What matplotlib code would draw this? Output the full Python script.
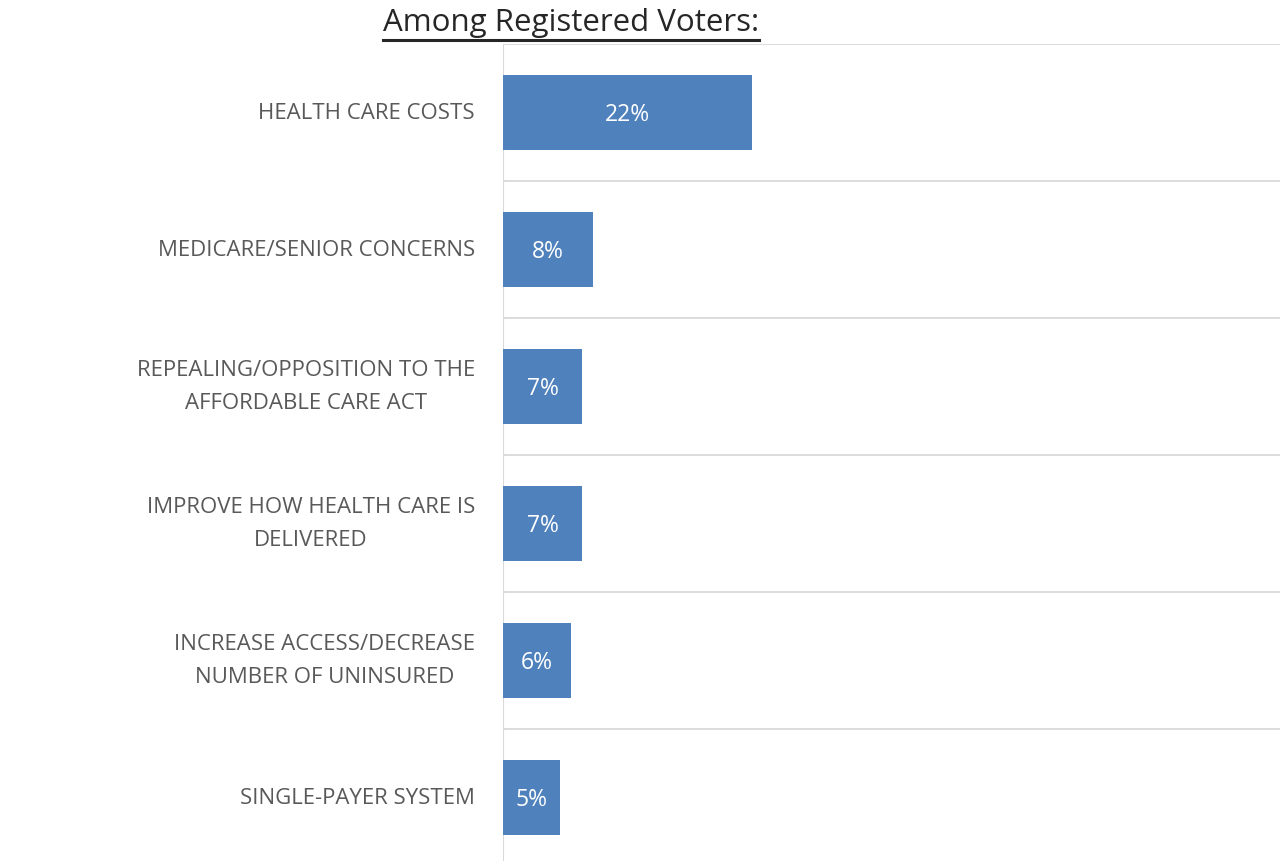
import matplotlib.pyplot as plt
from matplotlib.lines import Line2D

BLUE = "#4f81bd"
GREY_TXT = "#595959"
GRID = "#d9d9d9"

categories = [
    "HEALTH CARE COSTS",
    "MEDICARE/SENIOR CONCERNS",
    "REPEALING/OPPOSITION TO THE\nAFFORDABLE CARE ACT",
    "IMPROVE HOW HEALTH CARE IS\nDELIVERED",
    "INCREASE ACCESS/DECREASE\nNUMBER OF UNINSURED",
    "SINGLE-PAYER SYSTEM",
]
values = [22, 8, 7, 7, 6, 5]
value_labels = ["22%", "8%", "7%", "7%", "6%", "5%"]

plt.rcParams["font.family"] = ["Open Sans", "DejaVu Sans"]

W, H = 1280, 862
fig = plt.figure(figsize=(W / 100, H / 100), dpi=100)
# plot area: left edge at x=503, top at y=44, 137 px per category
ax = fig.add_axes([503 / W, 1 - (45 + 6 * 137) / H, 1 - 503 / W, 6 * 137 / H])

y = list(range(len(categories)))
ax.barh(y, values, height=0.55, color=BLUE, zorder=3)

for yi, v, lab in zip(y, values, value_labels):
    ax.text(v / 2, yi + 0.01, lab, ha="center", va="center", color="white",
            fontsize=16.5, zorder=4)

for yi, cat in zip(y, categories):
    ax.text(-28 / 11.3, yi, cat, ha="right", va="center", multialignment="center",
            color=GREY_TXT, fontsize=16, linespacing=1.75)

ax.set_xlim(0, 777 / 11.3)
ax.set_ylim(len(categories) - 0.5, -0.5)
for b in [i - 0.5 for i in range(len(categories) + 1)]:
    ax.axhline(b, color=GRID, lw=1.3, zorder=1)
ax.axvline(0, color=GRID, lw=1.5, zorder=2)

ax.set_xticks([])
ax.set_yticks([])
for s in ax.spines.values():
    s.set_visible(False)

# underlined title
t = fig.text(571 / W, 1 - 23 / H, "Among Registered Voters:", ha="center",
             va="center", fontsize=22.5, color="#262626")
fig.canvas.draw()
bb = t.get_window_extent()
fig.add_artist(Line2D([bb.x0 / W, bb.x1 / W], [1 - 41 / H] * 2,
                      color="#262626", lw=2.2, transform=fig.transFigure))

fig.savefig("out.png", dpi=100)
